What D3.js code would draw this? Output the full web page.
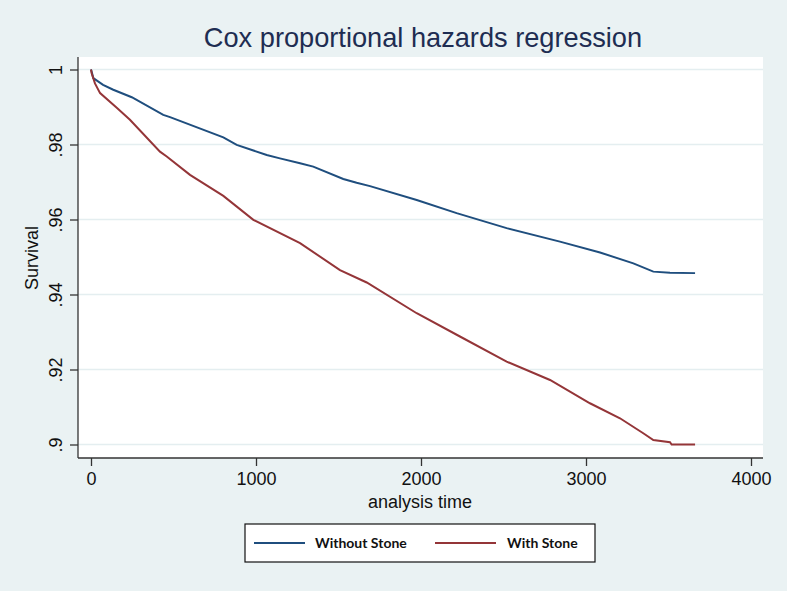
<!DOCTYPE html>
<html>
<head>
<meta charset="utf-8">
<script src="https://cdn.jsdelivr.net/npm/d3@7"></script>
<style>
html,body{margin:0;padding:0;background:#eaf2f3;}
svg{display:block;}
</style>
</head>
<body>
<svg id="chart" width="787" height="591"></svg>
<script>
// ---- data ----
const seriesNames = ["Without Stone", "With Stone"];
const seriesColors = ["#1f4e7e", "#943538"];
const withoutStoneTime = [0, 4, 14, 73, 135, 247, 438, 479, 802, 883, 1065, 1145, 1267, 1347, 1529, 1610, 1691, 1974, 2216, 2519, 2842, 3085, 3287, 3408, 3509, 3661];
const withoutStoneSurv = [1, .9994, .9977, .9959, .9946, .9926, .9879, .9873, .9819, .9799, .9772, .9763, .9750, .9741, .9708, .9698, .9689, .9652, .9617, .9577, .9541, .9512, .9483, .9461, .9458, .9457];
const withStoneTime = [0, 4, 24, 55, 156, 236, 418, 459, 600, 802, 984, 1267, 1509, 1671, 1974, 2236, 2519, 2782, 3024, 3206, 3347, 3408, 3509, 3519, 3661];
const withStoneSurv = [1, .9990, .9963, .9937, .9898, .9866, .9781, .9768, .9719, .9663, .9599, .9537, .9465, .9432, .9350, .9288, .9221, .9172, .9110, .9070, .9030, .9012, .9006, .9000, .9000];
const xTicks = [0, 1000, 2000, 3000, 4000];
const yTicks = [0.9, 0.92, 0.94, 0.96, 0.98, 1];
const yTickLabels = [".9", ".92", ".94", ".96", ".98", "1"];
const titleText = "Cox proportional hazards regression";
const xLabel = "analysis time";
const yLabel = "Survival";

const svg = d3.select("#chart");
const font = "'Liberation Sans', Arial, sans-serif";

// plot region
const plot = {left: 78, right: 763, top: 57, bottom: 458};
const x = d3.scaleLinear().domain([0, 4000]).range([91, 751]);
const y = d3.scaleLinear().domain([0.9, 1]).range([444.5, 69.5]);

svg.append("rect").attr("x", 0).attr("y", 0).attr("width", 787).attr("height", 591).attr("fill", "#eaf2f3");
svg.append("rect").attr("x", plot.left).attr("y", plot.top)
  .attr("width", plot.right - plot.left).attr("height", plot.bottom - plot.top).attr("fill", "#ffffff");

// gridlines
svg.append("g").selectAll("line").data(yTicks).join("line")
  .attr("x1", plot.left).attr("x2", plot.right)
  .attr("y1", d => y(d)).attr("y2", d => y(d))
  .attr("stroke", "#e4eef0").attr("stroke-width", 1.5);

// title
svg.append("text").attr("x", 423).attr("y", 47).attr("text-anchor", "middle")
  .attr("font-family", font).attr("font-size", 27.2).attr("fill", "#1e2d52").text(titleText);

// x axis
const xAxis = svg.append("g").attr("transform", `translate(0,${plot.bottom})`)
  .call(d3.axisBottom(x).tickValues(xTicks).tickFormat(d3.format("d")).tickSize(8).tickPadding(6).tickSizeOuter(0));
xAxis.select(".domain").remove();
xAxis.append("line").attr("x1", plot.left).attr("x2", plot.right).attr("y1", 0).attr("y2", 0).attr("stroke", "#333").attr("stroke-width", 1.3);
xAxis.selectAll(".tick line").attr("stroke", "#333").attr("stroke-width", 1.3);
xAxis.selectAll(".tick text").attr("font-family", font).attr("font-size", 18).attr("fill", "#111");

// y axis
const yAxis = svg.append("g").attr("transform", `translate(${plot.left},0)`)
  .call(d3.axisLeft(y).tickValues(yTicks).tickFormat((d, i) => yTickLabels[i]).tickSize(8).tickSizeOuter(0));
yAxis.select(".domain").remove();
yAxis.append("line").attr("x1", 0).attr("x2", 0).attr("y1", plot.top).attr("y2", plot.bottom).attr("stroke", "#333").attr("stroke-width", 1.3);
yAxis.selectAll(".tick line").attr("stroke", "#333").attr("stroke-width", 1.3);
yAxis.selectAll(".tick text")
  .attr("font-family", font).attr("font-size", 18).attr("fill", "#111")
  .attr("x", null).attr("dy", null)
  .attr("text-anchor", "middle")
  .attr("transform", "translate(-16,0) rotate(-90)")
  .attr("y", 0).attr("dy", "0");

// axis titles
svg.append("text").attr("x", 420).attr("y", 508).attr("text-anchor", "middle")
  .attr("font-family", font).attr("font-size", 18).attr("fill", "#111").text(xLabel);
svg.append("text").attr("transform", "translate(38,258) rotate(-90)").attr("text-anchor", "middle")
  .attr("font-family", font).attr("font-size", 18).attr("fill", "#111").text(yLabel);

// lines
const series = [
  withoutStoneTime.map((t, i) => ({t, s: withoutStoneSurv[i]})),
  withStoneTime.map((t, i) => ({t, s: withStoneSurv[i]}))
];
const line = d3.line().x(d => x(d.t)).y(d => y(d.s)).curve(d3.curveLinear);
svg.append("g").selectAll("path").data(series).join("path")
  .attr("d", line).attr("fill", "none")
  .attr("stroke", (d, i) => seriesColors[i]).attr("stroke-width", 2);

// legend
const lg = svg.append("g");
lg.append("rect").attr("x", 245).attr("y", 524).attr("width", 350).attr("height", 38)
  .attr("fill", "#ffffff").attr("stroke", "#111").attr("stroke-width", 1.2);
const legendItems = [{x1: 254, x2: 305, tx: 315}, {x1: 435, x2: 496, tx: 507}];
legendItems.forEach((it, i) => {
  lg.append("line").attr("x1", it.x1).attr("x2", it.x2).attr("y1", 543).attr("y2", 543)
    .attr("stroke", seriesColors[i]).attr("stroke-width", 2);
  lg.append("text").attr("x", it.tx).attr("y", 548).attr("font-family", "Lato, 'Open Sans', sans-serif")
    .attr("font-weight", "bold").attr("font-size", 14).attr("fill", "#111").text(seriesNames[i]);
});
</script>
</body>
</html>
